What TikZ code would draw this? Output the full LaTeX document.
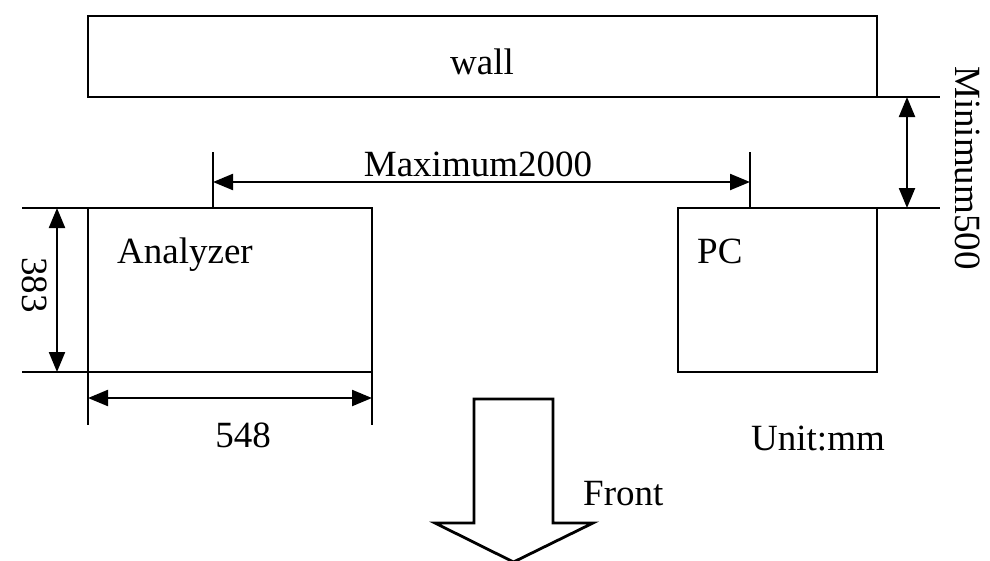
\documentclass[tikz,border=0pt]{standalone}
\usepackage{fontspec}
\setmainfont{Liberation Serif}
\usetikzlibrary{arrows.meta}
\begin{document}
\begin{tikzpicture}[x=1pt,y=-1pt,
  box/.style={draw, line width=2.8pt, inner sep=0pt, outer sep=0pt},
  ext/.style={line width=2.8pt},
  dim/.style={line width=2.2pt, {Triangle[length=20pt,width=16pt]}-{Triangle[length=20pt,width=16pt]}},
  lbl/.style={font=\fontsize{37}{44}\selectfont, inner sep=0pt}]
\useasboundingbox (0,0) rectangle (990,560);
% boxes
\node[box, minimum width=789pt, minimum height=81pt] (wall) at (482.5,56.5) {};
\node[box, minimum width=284pt, minimum height=164pt] (ana) at (230,290) {};
\node[box, minimum width=199pt, minimum height=164pt] (pc) at (777.5,290) {};
% texts
\node[lbl, anchor=base] (walltxt) at (482,74) {wall};
\node[lbl, anchor=base west] (anatxt) at (117,263) {Analyzer};
\node[lbl, anchor=base west] (pctxt) at (697,263) {PC};
% extension lines: minimum 500
\coordinate (w1) at (940,97);
\coordinate (w2) at (940,208);
\draw[ext] (wall.south east) -- (w1);
\draw[ext] (pc.north east) -- (w2);
\coordinate (m1) at (907,97);
\coordinate (m2) at (907,208);
\draw[dim] (m1) -- (m2);
\node[lbl, rotate=-90] (mintxt) at (968,168) {Minimum500};
% maximum 2000
\coordinate (x1a) at (213,152);
\coordinate (x1b) at (213,208);
\coordinate (x2a) at (750,152);
\coordinate (x2b) at (750,208);
\draw[ext] (x1a) -- (x1b);
\draw[ext] (x2a) -- (x2b);
\coordinate (d1) at (213,182);
\coordinate (d2) at (750,182);
\draw[dim] (d1) -- (d2);
\node[lbl, anchor=base] (maxtxt) at (478,176) {Maximum2000};
% 383
\coordinate (h1) at (22,208);
\coordinate (h2) at (22,372);
\draw[ext] (ana.north west) -- (h1);
\draw[ext] (ana.south west) -- (h2);
\coordinate (v1) at (57,208);
\coordinate (v2) at (57,372);
\draw[dim] (v1) -- (v2);
\node[lbl, rotate=-90] (hgt) at (35,285) {383};
% 548
\coordinate (b1) at (88,425);
\coordinate (b2) at (372,425);
\draw[ext] (ana.south west) -- (b1);
\draw[ext] (ana.south east) -- (b2);
\coordinate (e1) at (88,398);
\coordinate (e2) at (372,398);
\draw[dim] (e1) -- (e2);
\node[lbl, anchor=base] (wid) at (243,447) {548};
% unit
\node[lbl, anchor=base] (unit) at (818,450) {Unit:mm};
% front arrow
\draw[line width=2.8pt, line join=miter] (474,399) -- (553,399) -- (553,523) -- (593,523) -- (513.5,562) -- (435,523) -- (474,523) -- cycle;
\node[lbl, anchor=base west] (front) at (583,505) {Front};
\end{tikzpicture}
\end{document}
